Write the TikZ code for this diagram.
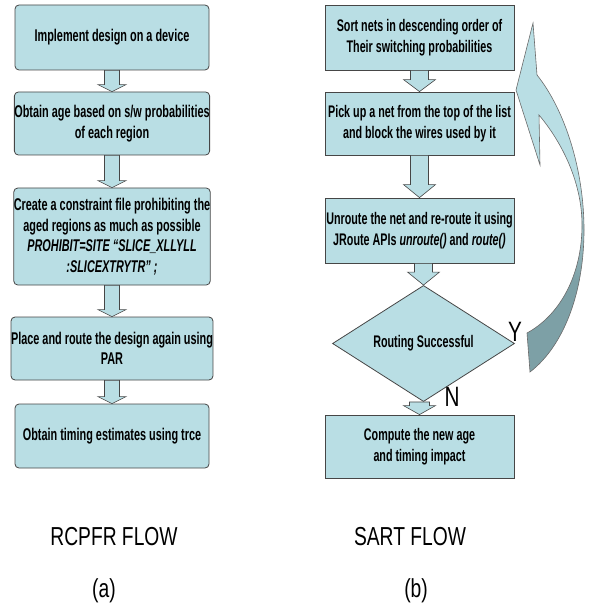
\documentclass[tikz,border=0pt]{standalone}
\usepackage{fontspec}
\setmainfont{Liberation Sans}
\newfontfamily\boxfont[FakeStretch=0.64]{Liberation Sans}
\newfontfamily\capfont[FakeStretch=0.74]{Liberation Sans}
\usetikzlibrary{shapes.geometric, calc, positioning}

\definecolor{boxfill}{RGB}{185,222,228}
\definecolor{boxline}{RGB}{70,70,70}
\definecolor{benddark}{RGB}{125,160,166}

\pgfdeclareverticalshading{bendshade}{100bp}{color(0bp)=(benddark); color(38bp)=(benddark); color(52bp)=(boxfill); color(100bp)=(boxfill)}

\tikzset{
  stage/.style={draw=boxline, fill=boxfill, line width=0.8pt, rounded corners=4pt,
    minimum width=194pt, inner sep=0pt, align=center,
    font=\boxfont\bfseries\fontsize{17}{20.5}\selectfont},
  sqstage/.style={stage, rounded corners=0pt, minimum width=189pt,
    font=\boxfont\bfseries\fontsize{16.8}{20.5}\selectfont},
  decision/.style={diamond, draw=boxline, fill=boxfill, line width=0.8pt, inner sep=0pt,
    minimum width=182pt, minimum height=73pt,
    font=\boxfont\bfseries\fontsize{16.8}{20}\selectfont},
  blockarrow/.style={draw=boxline, fill=boxfill, line width=0.6pt},
  caption/.style={font=\capfont\fontsize{26}{30}\selectfont},
  branch/.style={font=\capfont\fontsize{28}{30}\selectfont}
}

% block arrow: from, to, shaft half width, head half width, head length
\newcommand{\flowarrow}[5]{%
  \draw[blockarrow] let \p1=(#1.south), \p2=(#2.north) in
    (\x2-#3pt,\y1) -- (\x2-#3pt,\y2+#5pt) -- (\x2-#4pt,\y2+#5pt) -- (\x2,\y2)
    -- (\x2+#4pt,\y2+#5pt) -- (\x2+#3pt,\y2+#5pt) -- (\x2+#3pt,\y1) -- cycle;}

\begin{document}
\begin{tikzpicture}[x=1pt, y=-1pt]
\useasboundingbox (0,0) rectangle (590,612);
% RCPFR flow
\node[stage, minimum height=65pt] (implement) at (112,37.5) {Implement design on a device};
\node[stage, minimum height=63pt] (obtainage) at (112,123.5) {Obtain age based on s/w probabilities\\of each region};
\node[stage, minimum height=97pt] (constraint) at (112,236.5) {Create a constraint file prohibiting the\\aged regions as much as possible\\\itshape PROHIBIT=SITE “SLICE\_XLLYLL\\\itshape :SLICEXTRYTR” ;};
\node[stage, minimum height=63pt] (placeroute) at (112,348.5) {Place and route the design again using\\PAR};
\node[stage, minimum height=64pt] (timing) at (112,436) {Obtain timing estimates using trce};
\flowarrow{implement}{obtainage}{7.5}{14}{7}
\flowarrow{obtainage}{constraint}{7.5}{14}{7}
\flowarrow{constraint}{placeroute}{7.5}{14}{7}
\flowarrow{placeroute}{timing}{7.5}{14}{7}
% SART flow
\node[sqstage, minimum height=65pt] (sortnets) at (419.5,37.5) {Sort nets in descending order of\\Their switching probabilities};
\node[sqstage, minimum height=63pt] (picknet) at (419.5,123.5) {Pick up a net from the top of the list\\and block the wires used by it};
\node[sqstage, minimum height=65pt] (reroute) at (419.5,230.5) {Unroute the net and re-route it using\\JRoute APIs \textit{unroute()} and \textit{route()}};
\node[decision] (routeok) at (423.5,343.5) {Routing Successful};
\node[sqstage, minimum height=63pt] (newage) at (419.5,446.5) {Compute the new age\\and timing impact};
\flowarrow{sortnets}{picknet}{9}{16}{12}
\flowarrow{picknet}{reroute}{9}{16}{13}
\flowarrow{reroute}{routeok}{9}{16}{13}
\flowarrow{routeok}{newage}{10}{16}{9}
\node[branch] (yes) at (515,332) {Y};
\node[branch] (no) at (452,397) {N};
% bent return arrow
\draw[draw=boxline!80, line width=0.6pt, shade, shading=bendshade]
  (533,23) -- (516,90) -- (540,165) -- (539,115)
  .. controls (560,140) and (582,180) .. (582,225)
  .. controls (582,275) and (560,315) .. (527,333)
  -- (530,372)
  .. controls (565,345) and (584,290) .. (584,230)
  .. controls (584,170) and (565,110) .. (537,75) -- cycle;
% captions
\node[caption] (rcpfr) at (114,537) {RCPFR FLOW};
\node[caption] (suba) at (104,591) {(a)};
\node[caption] (sart) at (410,537) {SART FLOW};
\node[caption] (subb) at (416,591) {(b)};
\end{tikzpicture}
\end{document}
